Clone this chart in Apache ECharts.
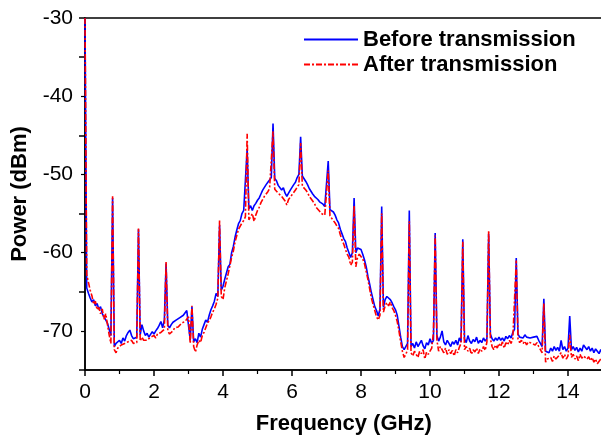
<!DOCTYPE html>
<html>
<head>
<meta charset="utf-8">
<script src="https://cdn.jsdelivr.net/npm/echarts@6/dist/echarts.min.js"></script>
<style>
html,body{margin:0;padding:0;background:#fff;}
#chart{width:601px;height:436px;}
</style>
</head>
<body>
<div id="chart"></div>
<script>
// Sampling grid: 0 to 15 GHz, every 0.05 GHz
var freqStart = 0, freqStep = 0.05, freqCount = 301;

// Before transmission (dBm), one row per GHz (20 samples each) + final point at 15 GHz
var before = [
-30.0,-64.5,-65.2,-65.8,-66.3,-66.0,-66.8,-66.5,-67.2,-66.9,-67.8,-68.2,-68.6,-69.0,-69.8,-70.6,-53.0,-72.0,-71.6,-71.4,
-71.2,-71.6,-70.9,-71.3,-70.6,-70.2,-69.9,-70.6,-71.0,-71.2,-70.8,-57.0,-70.5,-69.2,-70.0,-70.6,-70.3,-70.8,-70.6,-70.1,
-70.4,-70.0,-69.7,-69.3,-68.8,-69.6,-68.6,-61.4,-69.3,-69.6,-69.2,-68.9,-69.1,-68.6,-68.8,-68.3,-68.5,-68.0,-68.2,-67.4,
-67.3,-71.2,-66.9,-71.4,-71.0,-71.5,-70.3,-70.8,-69.8,-69.2,-68.6,-68.9,-68.0,-67.3,-66.8,-66.2,-65.2,-65.6,-56.5,-64.8,
-64.3,-63.4,-62.6,-61.8,-61.5,-60.0,-59.2,-58.0,-57.1,-56.3,-55.9,-55.0,-54.6,-54.7,-46.8,-54.4,-54.0,-54.6,-54.0,-53.7,
-53.3,-53.0,-52.5,-52.0,-51.8,-51.3,-51.0,-50.7,-50.4,-43.5,-50.5,-50.8,-51.4,-51.6,-52.0,-51.7,-52.4,-52.8,-52.4,-52.0,
-51.8,-51.3,-51.0,-50.4,-50.0,-45.2,-50.2,-50.4,-50.9,-51.3,-51.8,-52.0,-52.5,-52.8,-52.9,-53.2,-53.5,-53.6,-53.8,-54.1,
-54.0,-48.3,-54.5,-54.3,-54.8,-55.2,-55.8,-56.2,-57.0,-57.6,-58.2,-58.6,-59.4,-60.0,-60.6,-60.0,-53.0,-60.0,-59.4,-59.3,
-59.6,-60.2,-60.9,-61.8,-63.0,-64.0,-65.1,-66.0,-66.9,-67.4,-68.1,-67.2,-54.1,-67.0,-66.0,-65.6,-65.8,-66.0,-66.4,-66.9,
-67.3,-68.0,-69.4,-70.8,-72.0,-72.4,-72.2,-71.6,-54.6,-72.0,-71.6,-72.2,-71.4,-72.0,-71.8,-71.2,-71.9,-72.3,-71.5,-71.8,
-71.0,-71.6,-71.2,-57.5,-70.6,-71.3,-70.8,-70.0,-71.4,-71.8,-71.2,-71.6,-72.0,-71.4,-71.7,-71.2,-71.8,-70.9,-71.4,-58.3,
-71.0,-71.5,-70.6,-71.3,-71.6,-71.1,-71.4,-70.8,-71.6,-71.2,-71.5,-70.9,-71.3,-71.0,-57.6,-70.4,-71.0,-71.3,-70.9,-71.2,
-70.8,-71.2,-70.9,-71.3,-70.7,-71.0,-70.6,-70.9,-70.2,-69.8,-60.7,-70.4,-70.8,-70.6,-70.9,-70.5,-70.8,-70.6,-70.9,-70.7,
-70.8,-71.0,-70.7,-71.2,-71.6,-72.0,-65.9,-72.6,-72.4,-72.8,-72.2,-72.6,-72.0,-72.5,-72.1,-72.6,-71.2,-72.4,-72.0,-72.6,
-72.2,-68.1,-72.4,-72.0,-72.5,-72.1,-72.7,-72.2,-72.6,-71.8,-71.6,-72.4,-72.0,-72.6,-72.2,-72.8,-72.3,-72.6,-72.9,-72.4,
-72.8
];

// After transmission (dBm), same grid
var after = [
-30.0,-62.8,-63.0,-64.8,-65.5,-66.6,-66.2,-67.3,-67.0,-67.8,-67.2,-68.5,-67.8,-68.0,-70.5,-71.6,-52.8,-72.4,-72.8,-72.2,
-72.2,-71.8,-72.0,-71.6,-71.8,-71.4,-71.6,-71.2,-71.6,-71.4,-71.5,-56.9,-71.3,-70.8,-71.2,-71.0,-71.2,-71.0,-70.8,-71.0,
-70.6,-70.9,-70.4,-70.6,-70.2,-70.0,-69.8,-61.2,-70.0,-70.4,-70.3,-70.0,-69.6,-69.8,-69.5,-69.3,-69.0,-69.2,-68.8,-68.6,
-68.2,-71.6,-66.8,-72.0,-72.7,-71.8,-71.2,-71.5,-70.6,-70.2,-69.6,-69.0,-68.7,-68.2,-67.6,-67.2,-66.6,-65.8,-55.9,-65.6,
-66.0,-64.5,-63.6,-62.7,-62.6,-60.6,-59.8,-58.6,-57.8,-57.0,-56.6,-56.2,-55.9,-55.4,-44.8,-55.8,-55.6,-55.0,-56.0,-55.2,
-54.6,-54.2,-53.6,-53.4,-52.8,-52.6,-52.2,-51.8,-51.6,-44.5,-51.9,-52.0,-52.4,-52.2,-52.8,-53.0,-53.4,-53.9,-53.2,-52.9,
-52.6,-52.4,-52.0,-51.6,-51.3,-46.0,-51.5,-51.7,-52.0,-52.3,-52.8,-53.0,-53.4,-53.7,-54.2,-54.4,-54.7,-55.0,-54.9,-55.2,
-55.4,-49.5,-55.3,-55.4,-55.9,-56.2,-56.6,-56.9,-57.7,-58.4,-58.9,-59.6,-60.2,-60.6,-61.6,-61.2,-54.0,-61.8,-60.6,-60.2,
-60.4,-60.8,-61.4,-62.4,-63.4,-64.6,-65.8,-66.6,-67.4,-68.2,-68.6,-68.0,-55.0,-67.6,-66.8,-66.4,-66.8,-66.3,-67.0,-67.4,
-68.0,-68.8,-70.0,-71.4,-72.6,-73.4,-73.0,-72.4,-56.0,-72.8,-73.2,-72.6,-72.8,-73.4,-72.6,-72.9,-72.4,-73.6,-72.7,-73.0,
-72.6,-72.2,-70.2,-57.8,-71.2,-72.6,-72.0,-72.4,-72.8,-72.2,-73.0,-72.4,-72.9,-72.5,-73.2,-72.4,-72.8,-72.1,-71.6,-58.6,
-72.4,-72.0,-72.6,-72.2,-73.0,-72.4,-72.7,-72.2,-72.9,-72.3,-72.6,-72.0,-72.5,-71.4,-57.2,-71.0,-72.0,-72.4,-71.8,-72.2,
-71.6,-72.0,-71.4,-72.2,-71.5,-71.8,-71.2,-71.6,-71.0,-70.8,-61.0,-71.0,-71.5,-71.2,-71.6,-71.3,-71.8,-71.4,-71.2,-71.6,
-71.4,-71.8,-71.5,-72.0,-72.4,-72.8,-66.5,-74.0,-73.6,-73.8,-73.4,-73.9,-73.2,-73.6,-73.4,-73.1,-72.8,-73.5,-73.0,-73.6,
-73.2,-70.5,-73.4,-73.0,-73.6,-73.2,-73.8,-73.0,-73.5,-73.2,-73.0,-73.6,-73.3,-73.8,-73.4,-74.0,-73.6,-74.2,-74.0,-73.6,
-73.8
];

var seriesNames = ['Before transmission', 'After transmission'];
var xTicks = [0, 2, 4, 6, 8, 10, 12, 14];
var yTicks = [-70, -60, -50, -40, -30];

function pairs(vals) {
  var out = [];
  for (var i = 0; i < vals.length; i++) {
    out.push([+(freqStart + i * freqStep).toFixed(2), vals[i]]);
  }
  return out;
}

var chart = echarts.init(document.getElementById('chart'), null, {renderer: 'canvas'});
var fam = '"Liberation Sans", Arial, Helvetica, sans-serif';
chart.setOption({
  animation: false,
  backgroundColor: '#fff',
  grid: {left: 85, right: -1.5, top: 18, bottom: 66, show: true, borderColor: '#000', borderWidth: 1.5,
    backgroundColor: 'transparent', containLabel: false, outerBoundsMode: 'none'},
  legend: {
    orient: 'vertical', left: 298, top: 22, itemWidth: 54, itemHeight: 14, itemGap: 0,
    data: seriesNames,
    itemStyle: {opacity: 0},
    textStyle: {fontFamily: fam, fontSize: 22, fontWeight: 'bold', color: '#000', lineHeight: 25}
  },
  xAxis: {
    type: 'value', min: 0, max: 15, interval: 2,
    name: 'Frequency (GHz)', nameLocation: 'middle', nameGap: 43,
    nameTextStyle: {fontFamily: fam, fontSize: 22, fontWeight: 'bold', color: '#000'},
    axisLine: {onZero: false, lineStyle: {color: '#000', width: 1.5}},
    axisTick: {show: true, inside: false, length: 6, lineStyle: {color: '#000', width: 1.5}},
    minorTick: {show: true, splitNumber: 2, length: 4, lineStyle: {color: '#000', width: 1.2}},
    axisLabel: {fontFamily: fam, fontSize: 21, color: '#000', margin: 12,
      formatter: function (v) { return xTicks.indexOf(v) >= 0 ? String(v) : ''; }},
    splitLine: {show: false}
  },
  yAxis: {
    type: 'value', min: -75, max: -30, interval: 10,
    name: 'Power (dBm)', nameLocation: 'middle', nameGap: 54,
    nameTextStyle: {fontFamily: fam, fontSize: 22, fontWeight: 'bold', color: '#000'},
    axisLine: {onZero: false, lineStyle: {color: '#000', width: 1.5}},
    axisTick: {show: true, inside: false, length: 6, lineStyle: {color: '#000', width: 1.5}},
    minorTick: {show: true, splitNumber: 2, length: 4, lineStyle: {color: '#000', width: 1.2}},
    axisLabel: {fontFamily: fam, fontSize: 21, color: '#000', margin: 12,
      customValues: yTicks},
    splitLine: {show: false}
  },
  series: [
    {name: seriesNames[0], type: 'line', data: pairs(before), showSymbol: false, symbol: 'none',
     color: '#0000ff', lineStyle: {color: '#0000ff', width: 1.6}, clip: true, z: 2},
    {name: seriesNames[1], type: 'line', data: pairs(after), showSymbol: false, symbol: 'none',
     color: '#ff0000', lineStyle: {color: '#ff0000', width: 1.6, type: [6, 2, 2, 2]}, clip: true, z: 3}
  ]
});
</script>
</body>
</html>
